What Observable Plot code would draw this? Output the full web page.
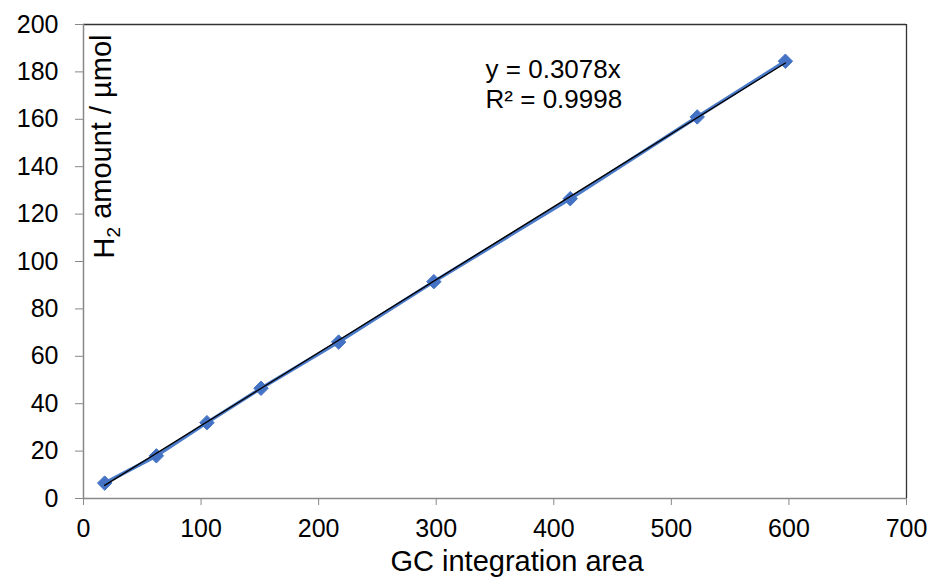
<!DOCTYPE html>
<html>
<head>
<meta charset="utf-8">
<script src="https://cdn.jsdelivr.net/npm/d3@7"></script>
<script src="https://cdn.jsdelivr.net/npm/@observablehq/plot@0.6"></script>
<style>
  html, body { margin: 0; padding: 0; background: #fff; }
  #chart svg { display: block; }
</style>
</head>
<body>
<div id="chart"></div>
<script>
const gcArea = [18, 62, 105, 151, 217, 298, 414, 522, 597];
const h2Amount = [6.5, 18, 32, 46.5, 66, 91.5, 126.5, 161, 184.5];
const slope = 0.3078;
const xTicks = [0, 100, 200, 300, 400, 500, 600, 700];
const yTicks = [0, 20, 40, 60, 80, 100, 120, 140, 160, 180, 200];
const eqLines = ["y = 0.3078x", "R² = 0.9998"];

const points = gcArea.map((x, i) => ({x, y: h2Amount[i]}));
const trend = [gcArea[0], gcArea[gcArea.length - 1]].map(x => ({x, y: slope * x}));

const font = "Liberation Sans, Arial, sans-serif";

const chart = Plot.plot({
  width: 932,
  height: 578,
  marginLeft: 83,
  marginRight: 26,
  marginTop: 24,
  marginBottom: 80,
  style: {fontFamily: font, fontSize: "25px", color: "#000", background: "#fff"},
  x: {domain: [0, 700], ticks: xTicks, label: null},
  y: {domain: [0, 200], ticks: yTicks, label: null},
  marks: [
    Plot.ruleY([200], {stroke: "#333", strokeWidth: 1.3}),
    Plot.ruleX([700], {stroke: "#333", strokeWidth: 1.3}),
    Plot.ruleX([0], {stroke: "#888", strokeWidth: 1.5}),
    Plot.ruleY([0], {stroke: "#888", strokeWidth: 1.5}),
    Plot.axisX({ticks: xTicks, tickSize: 7, tickPadding: 14, stroke: "#888", fontSize: 25, label: null}),
    Plot.axisY({ticks: yTicks, tickSize: 8, tickPadding: 17, stroke: "#888", fontSize: 25, label: null}),
    Plot.line(points, {x: "x", y: "y", stroke: "#4a7ac8", strokeWidth: 3.5}),
    Plot.dot(points, {x: "x", y: "y", symbol: "diamond2", r: 6.5, fill: "#4472c4", stroke: "#4472c4", strokeWidth: 1}),
    Plot.line(trend, {x: "x", y: "y", stroke: "#000", strokeWidth: 1.4}),
    Plot.text(eqLines, {x: 342, y: (d, i) => 180.8 - i * 12.7, text: d => d, textAnchor: "start", fontSize: 26, fill: "#000"}),
    Plot.text(["GC integration area"], {frameAnchor: "bottom", dx: 22, dy: 72, text: d => d, fontSize: 29, fill: "#000"}),
    Plot.text(["H2 amount / µmol"], {frameAnchor: "top-left", dx: 10, dy: 10, rotate: -90, textAnchor: "end", text: d => d, fontSize: 29, fill: "#000", className: "ylab"})
  ]
});

document.getElementById("chart").appendChild(chart);

// enforce tick label size
d3.select(chart).selectAll('g[aria-label$="tick label"]').attr("font-size", 25).style("font-size", "25px")
  .selectAll("text").style("font-size", "25px");

// subscript for H2
d3.select(chart).selectAll(".ylab text").each(function() {
  const t = d3.select(this);
  t.text("");
  t.append("tspan").text("H");
  t.append("tspan").attr("font-size", "19px").attr("dy", "0.3em").text("2");
  t.append("tspan").attr("dy", "-0.3em").text(" amount / µmol");
});
</script>
</body>
</html>
